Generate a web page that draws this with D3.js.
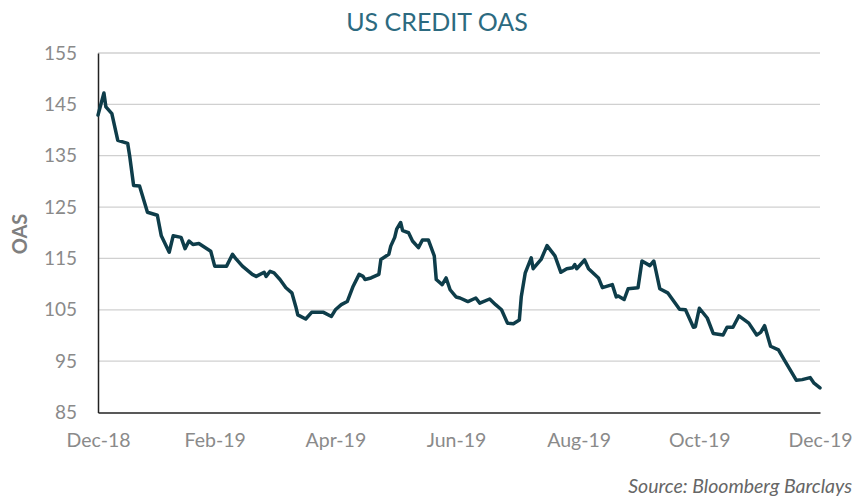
<!DOCTYPE html>
<html>
<head>
<meta charset="utf-8">
<script src="https://cdn.jsdelivr.net/npm/d3@7"></script>
<style>
  body { margin: 0; background: #fff; }
  text { font-family: Lato, "Open Sans", sans-serif; }
</style>
</head>
<body>
<script>
let w = 857;
let h = 498;

// Data
let dates = [
  "2018-12-31","2019-01-03","2019-01-04","2019-01-07","2019-01-10","2019-01-15","2019-01-16","2019-01-18",
  "2019-01-21","2019-01-25","2019-01-30","2019-02-01","2019-02-05","2019-02-07","2019-02-11","2019-02-13",
  "2019-02-15","2019-02-17","2019-02-20","2019-02-26","2019-02-28","2019-03-06","2019-03-09","2019-03-11",
  "2019-03-14","2019-03-19","2019-03-21","2019-03-25","2019-03-26","2019-03-28","2019-03-30","2019-04-02",
  "2019-04-05","2019-04-08","2019-04-10","2019-04-11","2019-04-15","2019-04-18","2019-04-24","2019-04-28",
  "2019-04-30","2019-05-03","2019-05-06","2019-05-09","2019-05-12","2019-05-14","2019-05-15","2019-05-18",
  "2019-05-22","2019-05-23","2019-05-27","2019-05-28","2019-05-30","2019-05-31","2019-06-02","2019-06-03",
  "2019-06-06","2019-06-08","2019-06-11","2019-06-13","2019-06-16","2019-06-19","2019-06-20","2019-06-23",
  "2019-06-25","2019-06-27","2019-06-30","2019-07-02","2019-07-06","2019-07-10","2019-07-12","2019-07-17",
  "2019-07-20","2019-07-23","2019-07-26","2019-07-29","2019-08-01","2019-08-02","2019-08-04","2019-08-07",
  "2019-08-08","2019-08-12","2019-08-15","2019-08-19","2019-08-22","2019-08-25","2019-08-28","2019-08-29",
  "2019-08-30","2019-09-03","2019-09-05","2019-09-10","2019-09-12","2019-09-17","2019-09-19","2019-09-20",
  "2019-09-23","2019-09-25","2019-09-30","2019-10-02","2019-10-06","2019-10-08","2019-10-11","2019-10-15",
  "2019-10-21","2019-10-24","2019-10-28","2019-10-29","2019-10-31","2019-11-04","2019-11-07","2019-11-12",
  "2019-11-14","2019-11-17","2019-11-20","2019-11-25","2019-11-29","2019-12-01","2019-12-03","2019-12-06",
  "2019-12-10","2019-12-13","2019-12-19","2019-12-22","2019-12-26","2019-12-28","2019-12-31"
];
let oas = [
  142.9, 147.2, 144.5, 143.2, 138.0, 137.4, 135.0, 129.2,
  129.1, 124.0, 123.4, 119.4, 116.2, 119.4, 119.1, 116.9,
  118.4, 117.7, 117.9, 116.4, 113.5, 113.5, 115.8, 114.8,
  113.5, 111.9, 111.5, 112.3, 111.5, 112.5, 112.2, 110.9,
  109.3, 108.3, 105.6, 104.0, 103.2, 104.5, 104.5, 103.7,
  105.0, 106.0, 106.6, 109.6, 111.9, 111.5, 110.9, 111.2,
  111.9, 114.8, 115.8, 117.4, 119.1, 120.7, 122.0, 120.4,
  120.0, 118.4, 117.1, 118.6, 118.6, 115.5, 110.9, 109.9,
  111.2, 108.9, 107.5, 107.3, 106.6, 107.3, 106.3, 107.1,
  106.0, 105.0, 102.4, 102.3, 103.0, 107.6, 112.2, 115.1,
  113.0, 114.8, 117.5, 115.5, 112.3, 113.0, 113.2, 113.8,
  113.0, 114.7, 113.0, 111.2, 109.3, 109.9, 107.5, 107.7,
  107.0, 109.1, 109.3, 114.5, 113.6, 114.5, 109.1, 108.3,
  105.1, 105.0, 101.6, 101.7, 105.3, 103.4, 100.4, 100.1,
  101.6, 101.6, 103.8, 102.4, 100.1, 100.6, 101.9, 97.9,
  97.2, 95.2, 91.3, 91.4, 91.8, 90.7, 89.8
];
let xTicks = ["2018-12-31","2019-02-28","2019-04-30","2019-06-30","2019-08-31","2019-10-31","2019-12-31"];
let yTicks = [85, 95, 105, 115, 125, 135, 145, 155];

let parse = d3.utcParse("%Y-%m-%d");
let data = dates.map((d, i) => ({ date: parse(d), value: oas[i] }));

// Scales
let xScale = d3.scaleUtc()
  .domain([parse(dates[0]), parse(dates[dates.length - 1])])
  .range([98, 820]);

let yScale = d3.scaleLinear()
  .domain([85, 155])
  .range([412.5, 53]);

let svg = d3.select("body")
  .append("svg")
  .attr("width", w)
  .attr("height", h);

// Title
svg.append("text")
  .text("US CREDIT OAS")
  .attr("x", 437)
  .attr("y", 31)
  .attr("text-anchor", "middle")
  .attr("font-size", "25px")
  .attr("fill", "#2c6a80");

// Gridlines
svg.selectAll("line.grid")
  .data(yTicks.slice(1))
  .enter()
  .append("line")
  .attr("class", "grid")
  .attr("x1", 98)
  .attr("x2", 820)
  .attr("y1", d => yScale(d))
  .attr("y2", d => yScale(d))
  .attr("stroke", "#d0d0d0")
  .attr("stroke-width", 1.3);

// Y axis
let yAxis = d3.axisLeft(yScale)
  .tickValues(yTicks)
  .tickSize(0)
  .tickPadding(21);

let gy = svg.append("g")
  .attr("transform", "translate(98,0)")
  .call(yAxis);
gy.select(".domain").attr("stroke", "#222").attr("stroke-width", 1.5);
gy.selectAll("text")
  .attr("font-size", "19px")
  .attr("fill", "#8a8a8a")
  .attr("font-family", "Lato, 'Open Sans', sans-serif");

// X axis
let xAxis = d3.axisBottom(xScale)
  .tickValues(xTicks.map(parse))
  .tickFormat(d3.utcFormat("%b-%y"))
  .tickSize(0)
  .tickPadding(21);

let gx = svg.append("g")
  .attr("transform", "translate(0,412.5)")
  .call(xAxis);
gx.select(".domain").attr("stroke", "#222").attr("stroke-width", 1.5);
gx.selectAll("text")
  .attr("font-size", "19.5px")
  .attr("fill", "#8a8a8a")
  .attr("font-family", "Lato, 'Open Sans', sans-serif");

// Y axis title
svg.append("text")
  .text("OAS")
  .attr("transform", "translate(27,234) rotate(-90)")
  .attr("text-anchor", "middle")
  .attr("font-size", "20px")
  .attr("font-weight", "bold")
  .attr("fill", "#7f7f7f");

// Line
let line = d3.line()
  .x(d => xScale(d.date))
  .y(d => yScale(d.value));

svg.append("path")
  .datum(data)
  .attr("d", line)
  .attr("fill", "none")
  .attr("stroke", "#0e3d4a")
  .attr("stroke-width", 3.5)
  .attr("stroke-linejoin", "round")
  .attr("stroke-linecap", "round");

// Source note
svg.append("text")
  .text("Source: Bloomberg Barclays")
  .attr("x", 852)
  .attr("y", 493)
  .attr("text-anchor", "end")
  .attr("font-size", "19.5px")
  .attr("font-style", "italic")
  .attr("fill", "#666");
</script>
</body>
</html>
